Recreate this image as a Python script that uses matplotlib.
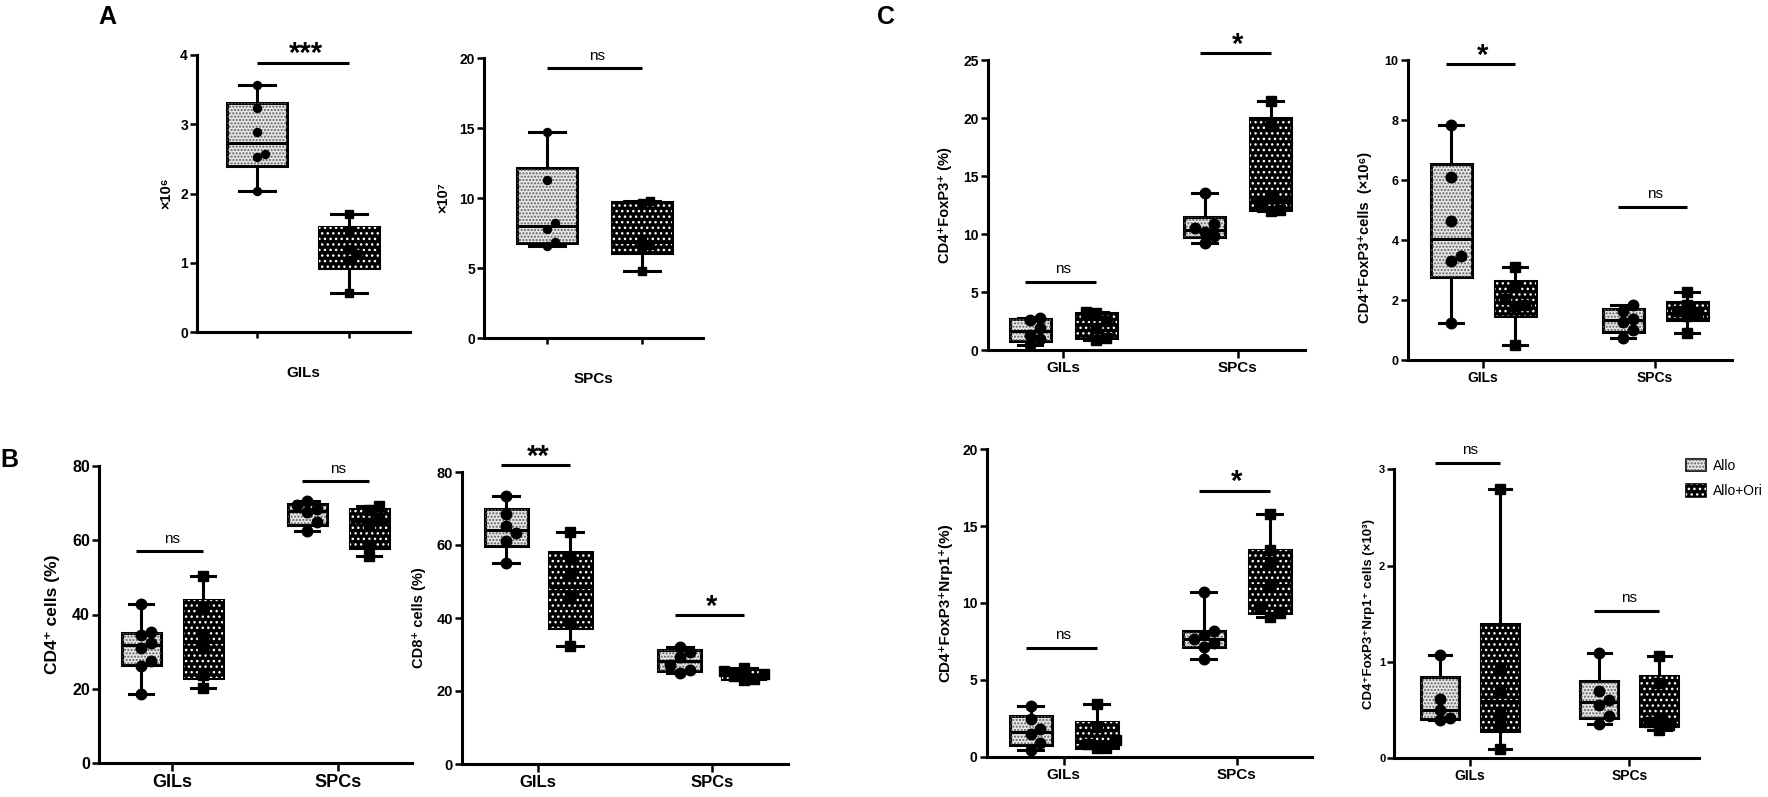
import numpy as np
import matplotlib
matplotlib.use('Agg')
import matplotlib.pyplot as plt
from matplotlib.patches import Patch, Rectangle

plt.rcParams['font.family'] = ['Liberation Sans', 'DejaVu Sans']
plt.rcParams['hatch.linewidth'] = 1.0

W, H = 1768, 797

# ---------------- data ----------------
groups = ['Allo', 'Allo+Ori']
sites = ['GILs', 'SPCs']

# A: absolute counts
a_gils_allo = [2.03, 2.52, 2.57, 2.89, 3.23, 3.56]
a_gils_ori = [0.57, 1.04, 1.12, 1.20, 1.46, 1.70]
a_spcs_allo = [6.55, 6.83, 7.81, 8.24, 11.26, 14.7]
a_spcs_ori = [4.76, 6.55, 6.65, 7.10, 9.65, 9.80]

# B: CD4+ and CD8+ (%)
cd4_gils_allo = [18.7, 26.0, 27.5, 31.0, 32.4, 34.5, 35.2, 42.7]
cd4_gils_ori = [20.2, 23.8, 31.0, 34.2, 41.6, 50.5]
cd4_spcs_allo = [62.5, 64.8, 67.6, 68.4, 69.6, 70.5]
cd4_spcs_ori = [55.7, 58.8, 64.6, 66.0, 68.2, 69.3]
cd8_gils_allo = [55.2, 61.1, 63.2, 65.2, 68.6, 73.3]
cd8_gils_ori = [32.4, 38.7, 45.5, 51.7, 56.4, 63.6]
cd8_spcs_allo = [25.0, 25.7, 27.2, 29.2, 30.8, 32.0]
cd8_spcs_ori = [23.0, 23.3, 24.0, 24.6, 25.4, 26.2]

# C: Treg
foxp3_pct_gils_allo = [0.43, 0.92, 1.3, 1.9, 2.6, 2.75]
foxp3_pct_gils_ori = [0.9, 1.03, 1.9, 2.5, 3.17, 3.3]
foxp3_pct_spcs_allo = [9.2, 9.87, 10.2, 10.5, 10.83, 13.5]
foxp3_pct_spcs_ori = [12.0, 12.05, 12.7, 13.1, 19.5, 21.5]

foxp3_num_gils_allo = [1.24, 3.29, 3.47, 4.63, 6.10, 7.83]
foxp3_num_gils_ori = [0.5, 1.81, 1.85, 2.05, 2.48, 3.11]
foxp3_num_spcs_allo = [0.72, 1.01, 1.28, 1.38, 1.64, 1.83]
foxp3_num_spcs_ori = [0.91, 1.47, 1.5, 1.62, 1.84, 2.28]

nrp1_pct_gils_allo = [0.43, 0.87, 1.45, 1.8, 2.43, 3.3]
nrp1_pct_gils_ori = [0.54, 0.54, 0.85, 1.1, 1.9, 3.43]
nrp1_pct_spcs_allo = [6.33, 7.16, 7.4, 7.66, 7.9, 8.2, 10.7]
nrp1_pct_spcs_ori = [9.1, 9.33, 9.7, 11.2, 12.5, 13.45, 15.8]

nrp1_num_gils_allo = [0.40, 0.42, 0.50, 0.62, 1.07]
nrp1_num_gils_ori = [0.10, 0.35, 0.48, 0.70, 0.92, 2.80]
nrp1_num_spcs_allo = [0.356, 0.44, 0.55, 0.61, 0.70, 1.09]
nrp1_num_spcs_ori = [0.29, 0.35, 0.38, 0.42, 0.78, 1.06]

# significance: (site index, bar height, label)
sig_a_left = [(0, 3.89, '***')]
sig_a_right = [(0, 19.26, 'ns')]
sig_cd4 = [(0, 57.0, 'ns'), (1, 75.9, 'ns')]
sig_cd8 = [(0, 81.8, '**'), (1, 40.8, '*')]
sig_foxp3_pct = [(0, 5.9, 'ns'), (1, 25.6, '*')]
sig_foxp3_num = [(0, 9.87, '*'), (1, 5.11, 'ns')]
sig_nrp1_pct = [(0, 7.1, 'ns'), (1, 17.3, '*')]
sig_nrp1_num = [(0, 3.07, 'ns'), (1, 1.53, 'ns')]

# ---------------- styles ----------------
# (box face, hatch colour, hatch)
FILLS = [('#e6e6e6', '#5e5e5e', '.....'), ('black', 'white', '...')]
LW = 2.2

fig = plt.figure(figsize=(W / 100, H / 100), dpi=100)


def box_stats(vals):
    v = np.asarray(vals, float)
    q1, med, q3 = np.percentile(v, [25, 50, 75], method='weibull')
    return dict(med=med, q1=q1, q3=q3, whislo=v.min(), whishi=v.max(), fliers=[])


def swarm(ax, x, vals, d):
    # simple beeswarm in pixels so that markers do not sit on top of each other
    ys = ax.transData.transform(np.column_stack([np.full(len(vals), x), vals]))[:, 1]
    order = np.argsort(ys)
    placed = []
    offs = np.zeros(len(vals))
    for i in order:
        y = ys[i]
        for k in [0, 1, -1, 2, -2, 3, -3]:
            xo = k * d * 0.95
            if all((xo - px) ** 2 + (y - py) ** 2 >= (0.9 * d) ** 2 for px, py in placed):
                break
        placed.append((xo, y))
        offs[i] = xo
    return offs


def make_axes(left, right, y0, ytop, ymax, c0, c1, yticks, tick_fs):
    ax = fig.add_axes([left / W, 1 - y0 / H, (right - left) / W, (y0 - ytop) / H])
    unit = c1 - c0
    ax.set_xlim((left - c0) / unit, (right - c0) / unit)
    ax.set_ylim(0, ymax)
    for s in ['top', 'right']:
        ax.spines[s].set_visible(False)
    for s in ['left', 'bottom']:
        ax.spines[s].set_linewidth(LW)
    ax.set_yticks(yticks)
    ax.set_yticklabels([f'{t:g}' for t in yticks], fontweight='bold', fontsize=tick_fs)
    ax.tick_params(axis='both', length=5, width=1.8, pad=1.5)
    ax.tick_params(axis='x', length=6, pad=2)
    return ax, unit


def draw_pair(ax, unit, pos, allo, ori, box_px, ms_px):
    st = [box_stats(allo), box_stats(ori)]
    w = box_px / unit
    bp = ax.bxp(st, positions=pos, widths=w, capwidths=0.6 * w,
                patch_artist=True, showfliers=False,
                boxprops=dict(linewidth=LW, edgecolor='black'),
                whiskerprops=dict(linewidth=LW, color='black'),
                capprops=dict(linewidth=LW, color='black'),
                medianprops=dict(linewidth=LW, color='black'))
    for box, s, p, (face, hcol, hatch) in zip(bp['boxes'], st, pos, FILLS):
        box.set_facecolor(face)
        ax.add_patch(Rectangle((p - w / 2, s['q1']), w, s['q3'] - s['q1'],
                               facecolor='none', edgecolor=hcol, hatch=hatch,
                               linewidth=0, zorder=2.05))
    for p, vals, mk in zip(pos, (allo, ori), ('o', 's')):
        dx = swarm(ax, p, vals, ms_px) / unit
        ax.plot(p + dx, vals, mk, ms=ms_px * 0.72, color='black', ls='none',
                zorder=4, clip_on=False)


def add_sig(ax, unit, x1, x2, y, label):
    ax.plot([x1 - 5 / unit, x2], [y, y], color='black', lw=LW, clip_on=False,
            solid_capstyle='butt')
    if label == 'ns':
        ax.annotate(label, ((x1 + x2) / 2, y), xytext=(0, 4), textcoords='offset points',
                    ha='center', va='bottom', fontsize=11, annotation_clip=False)
    else:
        ax.annotate(label, ((x1 + x2) / 2, y), xytext=(0, -4), textcoords='offset points',
                    ha='center', va='bottom', fontsize=21, fontweight='bold',
                    annotation_clip=False)


def ylabel(ax, text, left, xlab, fs, yfrac=0.5):
    ax.set_ylabel(text, fontsize=fs, fontweight='bold', va='center')
    width = ax.get_position().width * W
    ax.yaxis.set_label_coords(-(left - xlab) / width, yfrac)


# ---------------- panel A ----------------
def panel_a(geom, allo, ori, sig, ylab, xlab_text, ylab_x):
    left, right, y0, ytop, ymax, c0, c1, yt = geom
    ax, unit = make_axes(left, right, y0, ytop, ymax, c0, c1, yt, 10)
    draw_pair(ax, unit, [0, 1], allo, ori, 60, 8)
    ax.set_xticks([0, 1])
    ax.set_xticklabels(['', ''])
    ax.tick_params(axis='x', length=4)
    for _, y, lab in sig:
        add_sig(ax, unit, 0 + 5 / unit, 1, y, lab)
    ylabel(ax, ylab, left, ylab_x, 10.5)
    ax.text(0.5, -(41) / (y0 - ytop), xlab_text, transform=ax.transAxes,
            ha='center', va='center', fontsize=11, fontweight='bold')


panel_a((197, 410, 332, 55, 4, 257, 349, [0, 1, 2, 3, 4]),
        a_gils_allo, a_gils_ori, sig_a_left, '×10⁶', 'GILs', 166)
panel_a((484, 703, 338, 58, 20, 547, 642, [0, 5, 10, 15, 20]),
        a_spcs_allo, a_spcs_ori, sig_a_right, '×10⁷', 'SPCs', 443)


# ---------------- panels B and C ----------------
def panel_two(geom, data, sig, ylab, ylab_x, fs, box_px, off_px, ylab_y=0.5):
    left, right, y0, ytop, ymax, c0, c1, yt = geom
    tick_fs, xt_fs, yl_fs = fs
    ax, unit = make_axes(left, right, y0, ytop, ymax, c0, c1, yt, tick_fs)
    off = off_px / unit
    for g, (allo, ori) in enumerate(data):
        draw_pair(ax, unit, [g - off, g + off], allo, ori, box_px, 10.5)
    ax.set_xticks([0, 1])
    ax.set_xticklabels(sites, fontweight='bold', fontsize=xt_fs)
    for g, y, lab in sig:
        add_sig(ax, unit, g - off, g + off, y, lab)
    ylabel(ax, ylab, left, ylab_x, yl_fs, ylab_y)
    return ax


panel_two((99, 412, 763, 466, 80, 172, 338, [0, 20, 40, 60, 80]),
          [(cd4_gils_allo, cd4_gils_ori), (cd4_spcs_allo, cd4_spcs_ori)],
          sig_cd4, 'CD4⁺ cells (%)', 53, (11.5, 13, 12.5), 39, 31)
panel_two((462, 788, 764, 472, 80, 538, 711.7, [0, 20, 40, 60, 80]),
          [(cd8_gils_allo, cd8_gils_ori), (cd8_spcs_allo, cd8_spcs_ori)],
          sig_cd8, 'CD8⁺ cells (%)', 419, (10.5, 12, 10.5), 43, 32)

panel_two((987.5, 1305, 350, 60, 25, 1063, 1237.5, [0, 5, 10, 15, 20, 25]),
          [(foxp3_pct_gils_allo, foxp3_pct_gils_ori), (foxp3_pct_spcs_allo, foxp3_pct_spcs_ori)],
          sig_foxp3_pct, 'CD4⁺FoxP3⁺ (%)', 945, (10, 11, 10.5), 41, 33)
panel_two((1407.7, 1731.7, 360, 60, 10, 1483, 1655, [0, 2, 4, 6, 8, 10]),
          [(foxp3_num_gils_allo, foxp3_num_gils_ori), (foxp3_num_spcs_allo, foxp3_num_spcs_ori)],
          sig_foxp3_num, 'CD4⁺FoxP3⁺cells  (×10⁶)', 1365, (9, 10, 10.5), 41, 32,
          ylab_y=0.41)
panel_two((986.7, 1312, 756.7, 449.3, 20, 1063.5, 1236.8, [0, 5, 10, 15, 20]),
          [(nrp1_pct_gils_allo, nrp1_pct_gils_ori), (nrp1_pct_spcs_allo, nrp1_pct_spcs_ori)],
          sig_nrp1_pct, 'CD4⁺FoxP3⁺Nrp1⁺(%)', 945, (10, 11, 11), 42, 33)
panel_two((1394.4, 1698.7, 758.3, 469.3, 3, 1470, 1629.4, [0, 1, 2, 3]),
          [(nrp1_num_gils_allo, nrp1_num_gils_ori), (nrp1_num_spcs_allo, nrp1_num_spcs_ori)],
          sig_nrp1_num, 'CD4⁺FoxP3⁺Nrp1⁺ cells (×10³)', 1369, (8, 10, 9.5), 38, 30)

# legend: face + hatch overlay, like the boxes
handles = []
for face, hcol, hatch in FILLS:
    handles.append((Patch(facecolor=face, edgecolor='black', linewidth=1.2),
                    Patch(facecolor='none', edgecolor=hcol, hatch=hatch, linewidth=0)))
fig.legend(handles, groups, loc='upper left', bbox_to_anchor=(1680 / W, 1 - 453 / H),
           frameon=False, fontsize=10, handlelength=1.5, handleheight=1.0,
           labelspacing=0.85, handletextpad=0.5, borderaxespad=0)

# panel letters
for lab, x, y in [('A', 98, 5), ('B', 0, 448), ('C', 877, 5)]:
    fig.text(x / W, 1 - y / H, lab, fontsize=18, fontweight='bold', ha='left', va='top')

fig.savefig('out.png', dpi=100)
